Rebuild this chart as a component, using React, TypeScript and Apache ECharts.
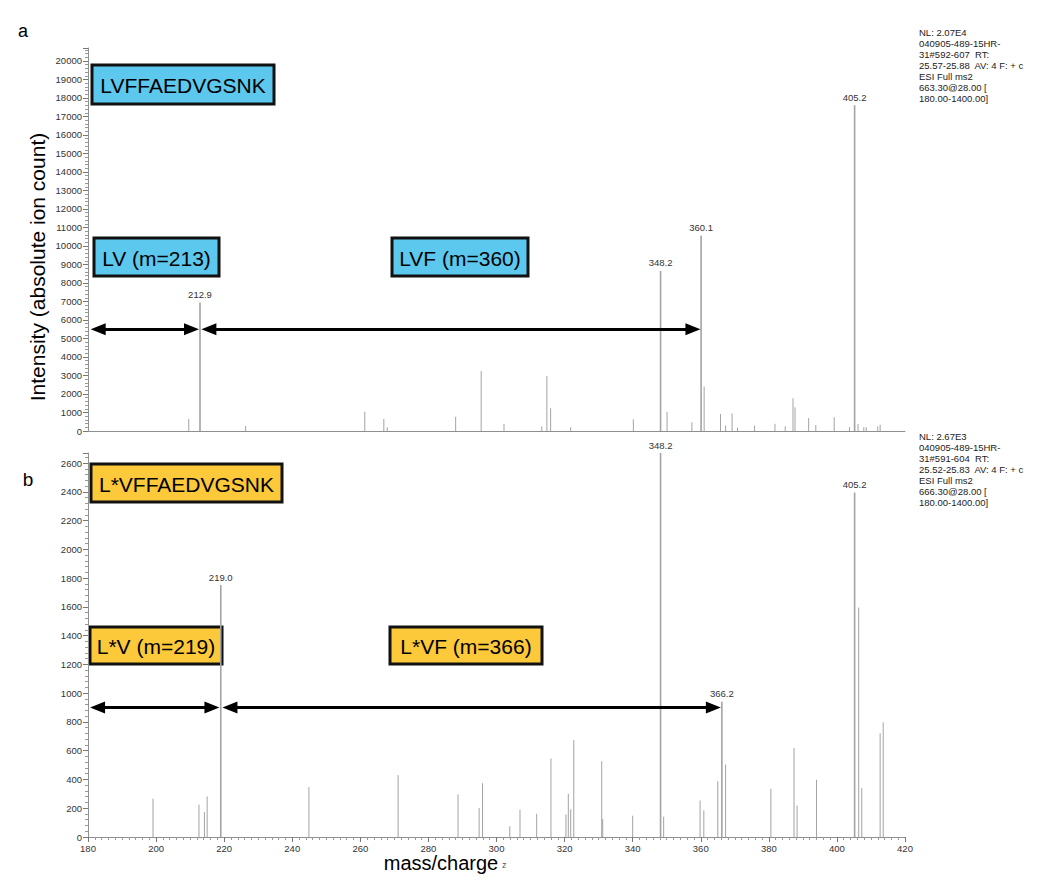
import React, { useEffect, useRef } from "react";
import * as echarts from "echarts";

// ---------- data (panel a: LVFFAEDVGSNK) ----------
const topMinorMz = [209.6, 226.3, 261.3, 266.9, 267.9, 288.0, 295.5, 302.2, 313.3, 314.8, 315.9, 321.8, 340.2, 350.1, 357.4, 361.0, 365.8, 367.3, 369.2, 370.8, 375.8, 381.8, 384.8, 387.1, 387.7, 391.7, 393.8, 399.2, 403.7, 406.2, 407.9, 408.6, 412.0, 412.7];
const topMinorInt = [650, 270, 1040, 650, 200, 770, 3240, 380, 250, 2970, 1230, 200, 630, 1040, 470, 2400, 920, 290, 950, 180, 290, 390, 250, 1770, 1280, 700, 320, 740, 200, 380, 200, 200, 250, 340];
const topMainMz = [212.9, 348.2, 360.1, 405.2];
const topMainInt = [6950, 8650, 10550, 17600];

// ---------- data (panel b: L*VFFAEDVGSNK) ----------
const botMinorMz = [199.1, 212.6, 214.2, 215.0, 244.9, 271.1, 288.7, 294.9, 295.9, 303.9, 306.9, 311.8, 316.0, 320.4, 321.1, 321.8, 322.7, 330.9, 331.2, 340.0, 349.1, 359.8, 360.9, 365.0, 367.3, 380.6, 387.4, 388.3, 394.0, 406.4, 407.3, 412.7, 413.6];
const botMinorInt = [266, 225, 173, 282, 347, 430, 296, 201, 374, 74, 190, 162, 546, 157, 301, 192, 675, 527, 125, 148, 141, 254, 185, 388, 504, 335, 620, 218, 398, 1595, 340, 721, 797];
const botMainMz = [219.0, 348.2, 366.2, 405.2];
const botMainInt = [1752, 2670, 940, 2395];

// axis ranges / ticks
const mzMin = 180;
const mzMax = 420;
const mzStep = 20;
const topMax = 20700;
const topStep = 1000;
const botMax = 2670;
const botStep = 200;

// annotation arrows [from m/z, to m/z] (arrow-head centres) at intensity level
const topArrows = [[183.0, 210.4], [215.5, 357.7]];
const topArrowY = 5500;
const botArrows = [[182.8, 216.4], [221.7, 363.7]];
const botArrowY = 900;

const topInfo = ["NL: 2.07E4", "040905-489-15HR-", "31#592-607  RT:", "25.57-25.88  AV: 4 F: + c", "ESI Full ms2", "663.30@28.00 [", "180.00-1400.00]"];
const botInfo = ["NL: 2.67E3", "040905-489-15HR-", "31#591-604  RT:", "25.52-25.83  AV: 4 F: + c", "ESI Full ms2", "666.30@28.00 [", "180.00-1400.00]"];

const FONT = '"Liberation Sans", Arial, sans-serif';
const PEAK = "#a3a3a3";
const AXIS = "#8f8f8f";
const CYAN = "#5cc8ee";
const YELLOW = "#fcc93a";

function peakSeries(xi: number, mz: number[], it: number[], main: boolean) {
  return {
    type: "custom",
    xAxisIndex: xi,
    yAxisIndex: xi,
    clip: false,
    silent: true,
    dimensions: ["mz", "int"],
    encode: { x: 0, y: 1 },
    data: mz.map((m, i) => [m, it[i]]),
    renderItem: (params: any, api: any) => {
      const x = api.value(0);
      const y = api.value(1);
      const p0 = api.coord([x, 0]);
      const p1 = api.coord([x, y]);
      const children: any[] = [
        {
          type: "line",
          shape: { x1: p0[0], y1: p0[1], x2: p1[0], y2: p1[1] },
          style: { stroke: PEAK, lineWidth: main ? 1.6 : 1 },
        },
      ];
      if (main) {
        children.push({
          type: "text",
          x: p1[0],
          y: p1[1] - 3,
          style: {
            text: x.toFixed(1),
            align: "center",
            verticalAlign: "bottom",
            font: `9.5px ${FONT}`,
            fill: "#333",
          },
        });
      }
      return { type: "group", children };
    },
  };
}

function arrowSeries(xi: number, arrows: number[][], y: number) {
  return {
    type: "line",
    xAxisIndex: xi,
    yAxisIndex: xi,
    data: [[mzMin, 0]],
    symbol: "none",
    silent: true,
    lineStyle: { opacity: 0 },
    markLine: {
      silent: true,
      symbol: ["triangle", "triangle"],
      symbolSize: [12, 15],
      label: { show: false },
      emphasis: { disabled: true },
      lineStyle: { color: "#000", width: 3, type: "solid" },
      itemStyle: { color: "#000" },
      data: arrows.map((a) => [
        { coord: [a[0], y] },
        { coord: [a[1], y] },
      ]),
    },
  };
}

function box(x: number, y: number, w: number, h: number, text: string, fill: string) {
  return {
    type: "group",
    children: [
      {
        type: "rect",
        shape: { x, y, width: w, height: h },
        style: { fill, stroke: "#111", lineWidth: 3 },
      },
      {
        type: "text",
        x: x + w / 2,
        y: y + h / 2 + 1,
        style: {
          text,
          align: "center",
          verticalAlign: "middle",
          font: `21px ${FONT}`,
          fill: "#000",
        },
      },
    ],
  };
}

function infoText(x: number, y: number, lines: string[]) {
  return {
    type: "text",
    x,
    y,
    style: {
      text: lines.join("\n"),
      font: `9.5px ${FONT}`,
      lineHeight: 11,
      fill: "#222",
      verticalAlign: "top",
    },
  };
}

function yAxisCfg(gi: number, max: number, step: number) {
  return {
    gridIndex: gi,
    type: "value",
    min: 0,
    max,
    interval: step,
    axisLine: { show: true, lineStyle: { color: AXIS, width: 1 } },
    axisTick: { show: true, length: 5, lineStyle: { color: "#777" } },
    minorTick: { show: true, splitNumber: 5, length: 3, lineStyle: { color: "#999" } },
    splitLine: { show: false },
    axisLabel: {
      fontSize: 9.5,
      color: "#333",
      margin: 6,
      fontFamily: FONT,
      showMaxLabel: false,
      formatter: (v: number) => (v % step === 0 ? String(v) : ""),
    },
  };
}

export default function App() {
  const ref = useRef<HTMLDivElement>(null);
  useEffect(() => {
    if (!ref.current) return;
    const chart = echarts.init(ref.current, undefined, { renderer: "svg" });
    chart.setOption({
      animation: false,
      backgroundColor: "#fff",
      textStyle: { fontFamily: FONT },
      grid: [
        { left: 88, right: 145, top: 48, height: 383 },
        { left: 88, right: 145, top: 453, height: 384 },
      ],
      xAxis: [
        {
          gridIndex: 0,
          type: "value",
          min: mzMin,
          max: mzMax,
          interval: mzStep,
          axisLine: { show: true, onZero: false, lineStyle: { color: AXIS } },
          axisTick: { show: false },
          axisLabel: { show: false },
          splitLine: { show: false },
        },
        {
          gridIndex: 1,
          type: "value",
          min: mzMin,
          max: mzMax,
          interval: mzStep,
          axisLine: { show: true, onZero: false, lineStyle: { color: AXIS } },
          axisTick: { show: true, length: 5, lineStyle: { color: "#777" } },
          minorTick: { show: true, splitNumber: 10, length: 3, lineStyle: { color: "#999" } },
          axisLabel: { fontSize: 9.5, color: "#333", margin: 6, fontFamily: FONT },
          splitLine: { show: false },
        },
      ],
      yAxis: [yAxisCfg(0, topMax, topStep), yAxisCfg(1, botMax, botStep)],
      series: [
        peakSeries(0, topMinorMz, topMinorInt, false),
        peakSeries(0, topMainMz, topMainInt, true),
        peakSeries(1, botMinorMz, botMinorInt, false),
        peakSeries(1, botMainMz, botMainInt, true),
        arrowSeries(0, topArrows, topArrowY),
        arrowSeries(1, botArrows, botArrowY),
      ],
      graphic: [
        { type: "text", x: 23, y: 31, style: { text: "a", font: `18px ${FONT}`, fill: "#000", align: "center", verticalAlign: "middle" } },
        { type: "text", x: 28, y: 479, style: { text: "b", font: `19px ${FONT}`, fill: "#000", align: "center", verticalAlign: "middle" } },
        {
          type: "text",
          x: 37,
          y: 267,
          rotation: Math.PI / 2,
          style: { text: "Intensity (absolute ion count)", font: `21px ${FONT}`, fill: "#000", align: "center", verticalAlign: "middle" },
        },
        { type: "text", x: 441, y: 863, style: { text: "mass/charge", font: `20px ${FONT}`, fill: "#000", align: "center", verticalAlign: "middle" } },
        { type: "text", x: 502, y: 865, style: { text: "z", font: `9px ${FONT}`, fill: "#555", align: "left", verticalAlign: "middle" } },
        box(92, 65, 182, 39, "LVFFAEDVGSNK", CYAN),
        box(94, 238, 125, 38, "LV (m=213)", CYAN),
        box(392, 238, 136, 38, "LVF (m=360)", CYAN),
        box(91, 464, 191, 38, "L*VFFAEDVGSNK", YELLOW),
        box(90, 627, 132, 37, "L*V (m=219)", YELLOW),
        box(390, 627, 152, 37, "L*VF (m=366)", YELLOW),
        infoText(919, 26.5, topInfo),
        infoText(919, 430.5, botInfo),
      ],
    });
    return () => chart.dispose();
  }, []);
  return <div ref={ref} style={{ position: "fixed", left: 0, top: 0, width: 1050, height: 888 }} />;
}
